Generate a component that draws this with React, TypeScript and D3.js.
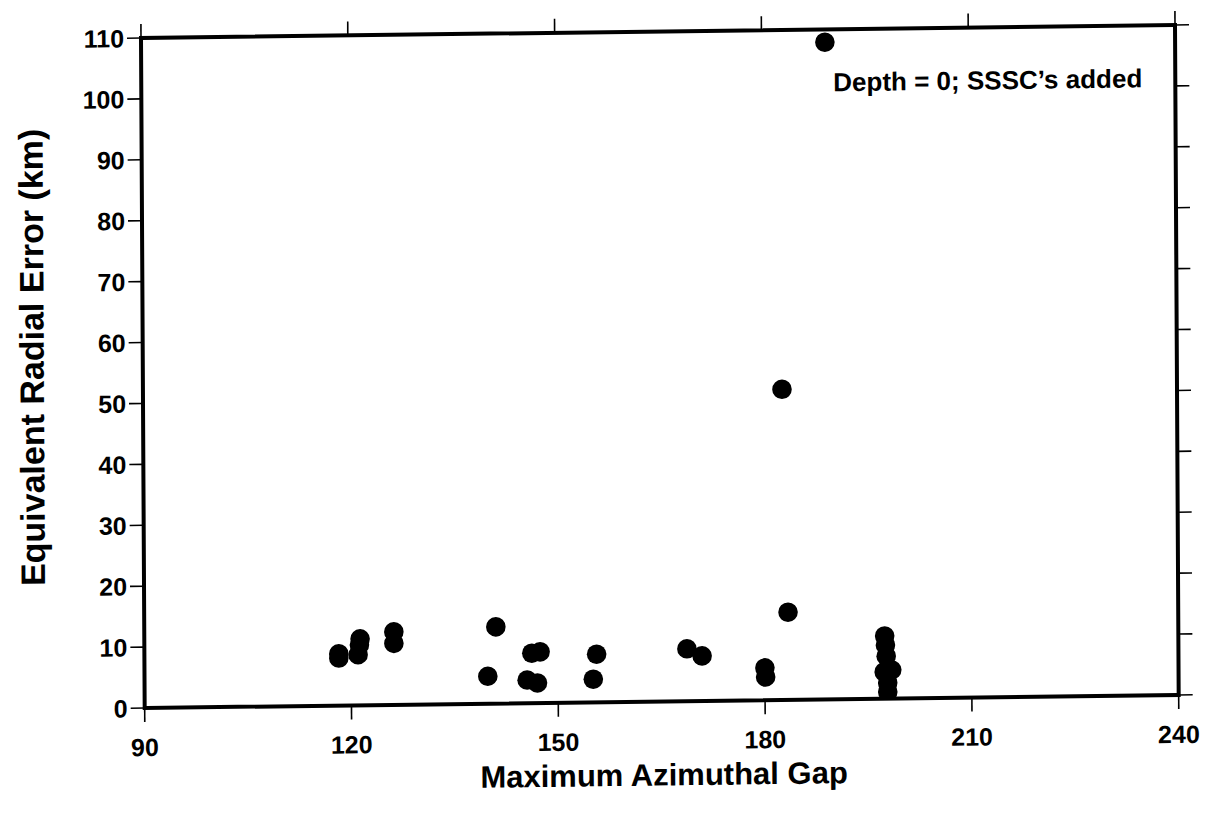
import React from 'react';
import * as d3 from 'd3';

// Maximum azimuthal gap (degrees) for each event
const gapValues = [
  118.2, 118.2, 121.3, 121.2, 121.0, 126.2, 126.2, 141.0, 139.8, 146.2,
  147.4, 145.5, 147.0, 155.6, 155.1, 168.7, 170.9, 180.0, 180.1, 183.4,
  182.7, 189.2, 197.4, 197.5, 197.6, 198.4, 197.3, 197.8, 197.8,
];
// Equivalent radial error (km) for each event
const errorValues = [
  8.5, 7.8, 10.9, 9.9, 8.3, 12.0, 10.1, 12.6, 4.5, 8.2,
  8.4, 3.8, 3.3, 7.9, 3.8, 8.6, 7.4, 5.3, 3.8, 14.4,
  51.0, 107.9, 10.3, 8.8, 7.0, 4.7, 4.4, 2.6, 1.1,
];
const xTicks = [90, 120, 150, 180, 210, 240];
const yTicks = [0, 10, 20, 30, 40, 50, 60, 70, 80, 90, 100, 110];
const xTitle = 'Maximum Azimuthal Gap';
const yTitle = 'Equivalent Radial Error (km)';
const note = 'Depth = 0; SSSC\u2019s added';

const W = 1207;
const H = 815;
const L = 141, R = 1175, T = 38, B = 708;
const FONT = '"Liberation Sans", Arial, Helvetica, sans-serif';

export default function App() {
  const x = d3.scaleLinear().domain([90, 240]).range([L, R]);
  const y = d3.scaleLinear().domain([0, 110]).range([B, T]);
  const pts = gapValues.map((g, i) => ({ g, e: errorValues[i] }));
  const tick = 14;
  return (
    <svg width={W} height={H} style={{ position: 'absolute', left: 0, top: 0, background: '#fff' }}>
      <defs>
        <clipPath id="plotClip">
          <rect x={L} y={T} width={R - L} height={B - T} />
        </clipPath>
      </defs>
      <g transform="matrix(1,-0.0126,0.0055,1,-0.21,1.78)" fontFamily={FONT} fontWeight="bold" fill="#000">
        <g clipPath="url(#plotClip)">
          {pts.map((p, i) => (
            <circle key={i} cx={x(p.g)} cy={y(p.e)} r={9.8} fill="#000" />
          ))}
        </g>
        <rect x={L} y={T} width={R - L} height={B - T} fill="none" stroke="#000" strokeWidth={4} />
        {yTicks.map((t) => (
          <g key={'y' + t}>
            <line x1={L - tick} x2={L} y1={y(t)} y2={y(t)} stroke="#000" strokeWidth={1.6} />
            <line x1={R} x2={R + tick} y1={y(t)} y2={y(t)} stroke="#000" strokeWidth={1.6} />
            <text x={L - 17} y={y(t)} dy="0.36em" textAnchor="end" fontSize={25}>{t}</text>
          </g>
        ))}
        {xTicks.map((t) => (
          <g key={'x' + t}>
            <line x1={x(t)} x2={x(t)} y1={T - tick} y2={T} stroke="#000" strokeWidth={1.6} />
            <line x1={x(t)} x2={x(t)} y1={B} y2={B + tick} stroke="#000" strokeWidth={1.6} />
            <text x={x(t)} y={B + 48} textAnchor="middle" fontSize={25}>{t}</text>
          </g>
        ))}
        <text x={(L + R) / 2 + 2} y={792} textAnchor="middle" fontSize={31}>{xTitle}</text>
        <text transform={`translate(42,356) rotate(-90)`} textAnchor="middle" fontSize={34}>{yTitle}</text>
        <text x={833} y={100} fontSize={26}>{note}</text>
      </g>
    </svg>
  );
}
